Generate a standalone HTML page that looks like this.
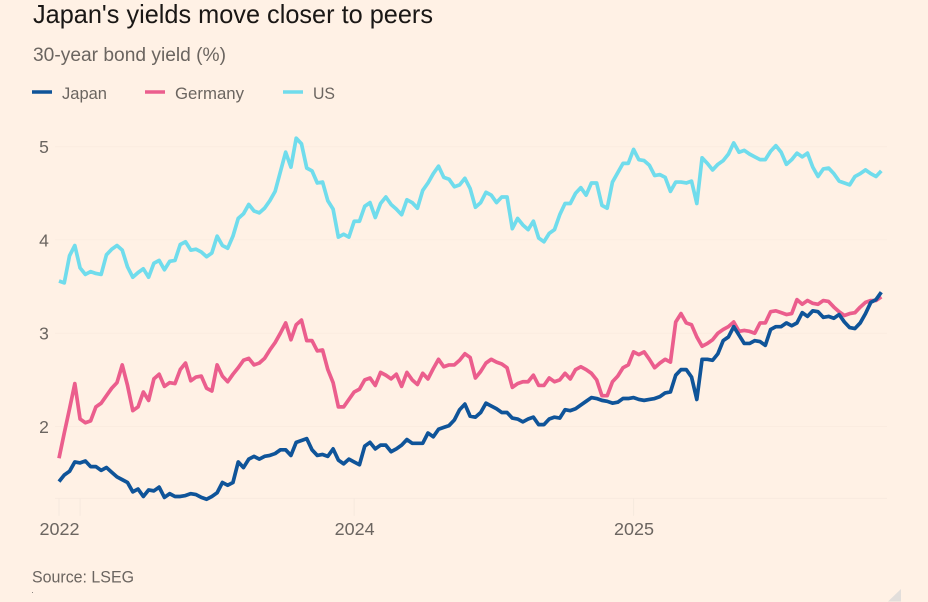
<!DOCTYPE html>
<html lang="en">
<head>
<meta charset="utf-8">
<title>Japan's yields move closer to peers</title>
<style>
  html, body { margin: 0; padding: 0; background: #fff1e5; }
  body { width: 928px; height: 602px; overflow: hidden; }
  svg { display: block; font-family: "Liberation Sans", sans-serif; }
</style>
</head>
<body>
<svg id="chart" xmlns="http://www.w3.org/2000/svg" width="928" height="602" viewBox="0 0 928 602">
  <rect x="0" y="0" width="928" height="602" fill="#fff1e5"/>
  <text x="33" y="23" font-size="26" fill="#1a1715" textLength="400" lengthAdjust="spacingAndGlyphs">Japan's yields move closer to peers</text>
  <text x="33" y="61" font-size="19" fill="#6b6560" textLength="193" lengthAdjust="spacingAndGlyphs">30-year bond yield (%)</text>

  <g>
    <g>
      <line x1="32" y1="92" x2="52" y2="92" stroke="#0f5499" stroke-width="3.4"/>
      <text x="62" y="99" font-size="17" fill="#6b6560" textLength="45" lengthAdjust="spacingAndGlyphs">Japan</text>
    </g>
    <g>
      <line x1="145" y1="92" x2="165" y2="92" stroke="#eb5e8d" stroke-width="3.4"/>
      <text x="175" y="99" font-size="17" fill="#6b6560" textLength="69" lengthAdjust="spacingAndGlyphs">Germany</text>
    </g>
    <g>
      <line x1="283" y1="92" x2="303" y2="92" stroke="#70dcec" stroke-width="3.4"/>
      <text x="313" y="99" font-size="17" fill="#6b6560" textLength="22" lengthAdjust="spacingAndGlyphs">US</text>
    </g>
  </g>

  <g id="grid"></g>
  <g id="xaxis"></g>
  <g id="yaxis"></g>
  <g id="series"></g>

  <text x="32" y="582.5" font-size="17" fill="#6b6560" textLength="102" lengthAdjust="spacingAndGlyphs">Source: LSEG</text>
  <rect x="32" y="592" width="1" height="1" fill="#8a8580"/>
  <polygon points="888,601.5 901,601.5 901,589" fill="#e2dedb"/>
</svg>
<script>
const usValues = [
  3.56,3.54,3.83,3.94,3.70,3.63,3.66,3.64,3.63,3.84,
  3.90,3.94,3.89,3.71,3.60,3.65,3.69,3.60,3.75,3.78,
  3.68,3.77,3.78,3.95,3.98,3.89,3.90,3.87,3.82,3.86,
  4.04,3.94,3.91,4.04,4.23,4.28,4.38,4.31,4.29,4.34,
  4.42,4.52,4.73,4.94,4.78,5.09,5.03,4.77,4.74,4.61,
  4.62,4.42,4.33,4.03,4.06,4.03,4.20,4.20,4.36,4.40,
  4.24,4.39,4.46,4.38,4.33,4.27,4.43,4.40,4.34,4.53,
  4.61,4.71,4.79,4.67,4.65,4.57,4.59,4.66,4.55,4.35,
  4.40,4.51,4.48,4.40,4.46,4.46,4.12,4.23,4.16,4.11,
  4.20,4.02,3.98,4.07,4.11,4.27,4.39,4.39,4.50,4.56,
  4.48,4.61,4.61,4.37,4.34,4.62,4.72,4.82,4.82,4.97,
  4.86,4.85,4.80,4.69,4.70,4.67,4.52,4.62,4.62,4.61,
  4.63,4.39,4.88,4.82,4.75,4.81,4.85,4.92,5.04,4.94,
  4.96,4.92,4.89,4.86,4.86,4.95,5.01,4.94,4.81,4.86,
  4.93,4.89,4.93,4.78,4.68,4.76,4.77,4.71,4.63,4.61,
  4.59,4.68,4.71,4.75,4.71,4.68,4.74
];
const germanyValues = [
  1.66,1.93,2.19,2.46,2.08,2.04,2.06,2.21,2.25,2.33,
  2.41,2.47,2.66,2.44,2.17,2.21,2.37,2.28,2.51,2.56,
  2.43,2.47,2.46,2.61,2.68,2.49,2.53,2.54,2.41,2.38,
  2.66,2.54,2.48,2.56,2.63,2.71,2.73,2.66,2.68,2.73,
  2.82,2.90,3.00,3.11,2.93,3.09,3.14,2.92,2.92,2.81,
  2.82,2.61,2.47,2.21,2.21,2.29,2.37,2.40,2.50,2.52,
  2.44,2.58,2.55,2.51,2.56,2.43,2.58,2.50,2.45,2.57,
  2.51,2.62,2.72,2.64,2.66,2.66,2.71,2.78,2.74,2.52,
  2.59,2.68,2.72,2.69,2.67,2.63,2.42,2.46,2.48,2.48,
  2.55,2.44,2.44,2.52,2.48,2.50,2.57,2.51,2.61,2.64,
  2.61,2.57,2.50,2.33,2.33,2.48,2.54,2.63,2.66,2.80,
  2.77,2.80,2.72,2.63,2.68,2.72,2.69,3.12,3.21,3.11,
  3.09,2.96,2.86,2.89,2.93,3.00,3.04,3.07,3.12,3.02,
  3.03,3.02,3.00,3.11,3.11,3.23,3.24,3.22,3.20,3.21,
  3.36,3.31,3.35,3.32,3.31,3.35,3.34,3.28,3.23,3.19,
  3.21,3.22,3.28,3.33,3.35,3.35,3.39
];
const japanValues = [
  1.41,1.48,1.52,1.62,1.61,1.63,1.57,1.57,1.53,1.56,
  1.51,1.46,1.43,1.40,1.30,1.33,1.25,1.32,1.31,1.35,
  1.24,1.28,1.25,1.25,1.26,1.28,1.27,1.24,1.22,1.25,
  1.29,1.40,1.37,1.40,1.62,1.56,1.65,1.68,1.65,1.68,
  1.69,1.71,1.75,1.75,1.69,1.83,1.85,1.87,1.75,1.69,
  1.70,1.68,1.76,1.64,1.60,1.65,1.62,1.59,1.79,1.83,
  1.76,1.80,1.80,1.73,1.76,1.80,1.86,1.82,1.82,1.82,
  1.93,1.89,1.97,1.99,2.01,2.07,2.18,2.24,2.11,2.10,
  2.15,2.25,2.22,2.19,2.15,2.15,2.09,2.08,2.05,2.08,
  2.10,2.02,2.02,2.08,2.10,2.09,2.18,2.17,2.19,2.23,
  2.27,2.31,2.30,2.28,2.27,2.25,2.26,2.30,2.30,2.31,
  2.29,2.28,2.29,2.30,2.32,2.36,2.37,2.55,2.61,2.61,
  2.53,2.29,2.72,2.72,2.71,2.78,2.92,2.96,3.07,2.98,
  2.89,2.89,2.92,2.91,2.87,3.04,3.07,3.07,3.11,3.08,
  3.11,3.22,3.18,3.24,3.23,3.17,3.18,3.16,3.20,3.12,
  3.06,3.05,3.11,3.21,3.33,3.36,3.44
];
const yTickValues = [2, 3, 4, 5];
const yBaseValue = 1.23;
const xTickIndexes = [0, 4, 56, 109];
const xTickLabels = ["2022", "", "2024", "2025"];

const NS = 'http://www.w3.org/2000/svg';
const plotLeft = 59;
const plotRight = 881.3;
const gridLeft = 55;
const gridRight = 887;
const stepCount = usValues.length - 1;

function xScale(i) {
  return plotLeft + (i / stepCount) * (plotRight - plotLeft);
}
function yScale(v) {
  return 426.5 - (v - 2) * 93.3;
}
function make(tag, attrs, parent) {
  const el = document.createElementNS(NS, tag);
  Object.keys(attrs).forEach(function (k) { el.setAttribute(k, attrs[k]); });
  parent.appendChild(el);
  return el;
}

const gridGroup = document.getElementById('grid');
const yAxisGroup = document.getElementById('yaxis');
const xAxisGroup = document.getElementById('xaxis');
const seriesGroup = document.getElementById('series');

yTickValues.forEach(function (v) {
  const line = make('line', { x1: gridLeft, x2: gridRight, y1: yScale(v), y2: yScale(v), stroke: '#fbece0', 'stroke-width': 1 }, gridGroup);
  
  
  const label = make('text', { x: 44, y: yScale(v) + 6.5, 'font-size': 17.5, fill: '#6b6560', 'text-anchor': 'middle' }, yAxisGroup);
  label.textContent = String(v);
  
  
});

const baseline = make('line', { x1: gridLeft, x2: gridRight, y1: yScale(yBaseValue), y2: yScale(yBaseValue), stroke: '#f8eadf', 'stroke-width': 1 }, xAxisGroup);



xTickIndexes.forEach(function (idx, n) {
  const x = xScale(idx);
  const tick = make('line', { x1: x, x2: x, y1: yScale(yBaseValue), y2: yScale(yBaseValue) + 17.5, stroke: '#f6e9de', 'stroke-width': 1 }, xAxisGroup);
  
  
  if (xTickLabels[n]) {
    const label = make('text', { x: x + 0.5, y: 535, 'font-size': 17.5, fill: '#6b6560', 'text-anchor': 'middle', textLength: 40, lengthAdjust: 'spacingAndGlyphs' }, xAxisGroup);
    label.textContent = xTickLabels[n];
    
    
  }
});

function drawSeries(values, color, name) {
  const d = values.map(function (v, i) {
    return (i === 0 ? 'M' : 'L') + xScale(i).toFixed(2) + ' ' + yScale(v).toFixed(2);
  }).join(' ');
  const path = make('path', { d: d, fill: 'none', stroke: color, 'stroke-width': 3.7, 'stroke-linejoin': 'round', 'stroke-linecap': 'butt' }, seriesGroup);
  
  
}
drawSeries(usValues, '#70dcec', 'line-us');
drawSeries(germanyValues, '#eb5e8d', 'line-germany');
drawSeries(japanValues, '#0f5499', 'line-japan');
</script>
</body>
</html>
